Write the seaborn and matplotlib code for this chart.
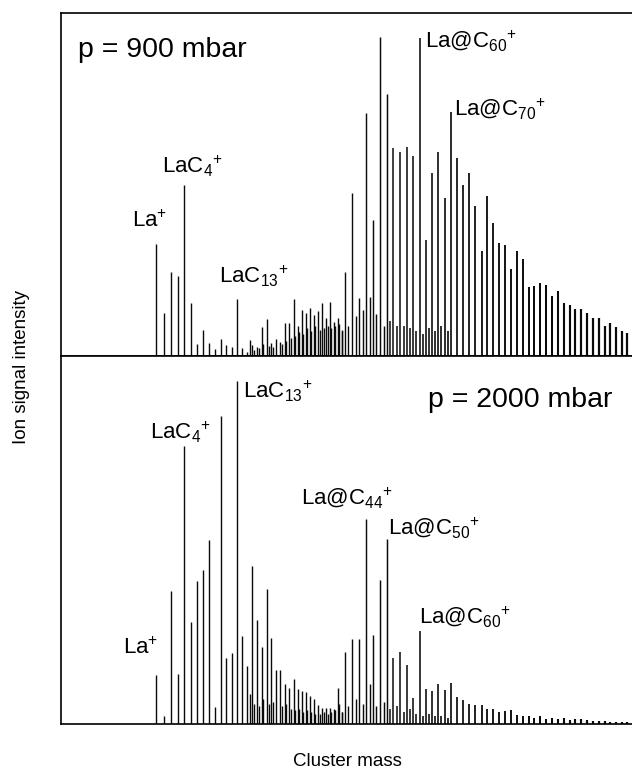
import numpy as np
import pandas as pd
import matplotlib
matplotlib.use("Agg")
import matplotlib.pyplot as plt
import seaborn as sns

LA_MASS = 139.0
C_MASS = 12.0

pressures = ["900 mbar", "2000 mbar"]

# LaCn+ clusters, every n resolved at low mass
lac_carbons = list(range(38))
lac_900 = [112, 43, 84, 80, 171, 53, 12, 26, 13, 7, 17, 11, 9, 57, 8, 4, 11, 9, 29, 37,
           13, 17, 14, 33, 33, 57, 30, 46, 43, 48, 41, 45, 53, 38, 54, 34, 38, 25]
lac_2000 = [49, 8, 133, 50, 278, 102, 143, 154, 184, 17, 308, 66, 71, 343, 88, 58, 158, 104, 77, 135,
            86, 54, 54, 40, 36, 45, 35, 33, 32, 28, 25, 19, 16, 16, 16, 15, 36, 12]

# even-numbered (fullerene) peaks, masses
fullerene_mass = [594, 616, 641, 665, 689, 714, 739, 762, 787, 812, 836, 861, 886, 911, 936, 963,
                  988, 1013, 1039, 1066, 1093, 1121, 1147, 1174, 1201, 1228, 1256, 1284, 1312, 1341,
                  1368, 1398, 1427, 1457, 1487, 1516, 1548, 1578, 1608, 1640, 1673, 1703, 1736, 1768,
                  1800, 1832, 1865]
fullerene_900 = [84, 163, 58, 243, 136, 319, 262, 208, 204, 209, 200, 318, 116, 183, 204, 158,
                 244, 198, 171, 183, 150, 105, 160, 133, 113, 111, 87, 105, 97, 69,
                 70, 73, 71, 60, 65, 53, 51, 47, 47, 43, 38, 38, 30, 33, 29, 25, 23]
fullerene_2000 = [72, 85, 85, 205, 89, 144, 185, 66, 72, 59, 26, 93, 35, 33, 40, 34,
                  41, 27, 24, 20, 19, 19, 15, 15, 12, 13, 14, 9, 8, 8,
                  6, 8, 5, 6, 5, 6, 4, 5, 5, 4, 3, 3, 3, 2, 2, 2, 2]

# weaker peaks in between (pure carbon clusters, odd sizes)
minor_mass = [325, 336, 348, 359, 372, 384, 407, 418, 432, 443, 454, 466, 477, 489, 501, 515,
              527, 539, 550, 562, 575, 586, 604, 629, 653, 677, 701, 726, 750, 775, 800, 824,
              849, 873, 899, 923, 949, 974]
minor_900 = [16, 6, 8, 12, 10, 9, 12, 15, 18, 20, 24, 22, 28, 25, 30, 26, 28, 30, 28, 30,
             32, 26, 30, 40, 46, 59, 42, 30, 35, 30, 30, 28, 25, 22, 28, 25, 30, 25]
minor_2000 = [30, 20, 18, 25, 20, 22, 18, 20, 15, 14, 15, 12, 14, 12, 10, 10, 12, 10, 12, 14,
              20, 12, 18, 25, 20, 40, 18, 22, 15, 18, 12, 15, 10, 8, 10, 8, 8, 6]

# annotated peaks: (text, carbon atoms, x offset px, y offset px, alignment)
labels_900 = [
    (r"La$^{+}$", 0, 11, 17, "right"),
    (r"LaC$_{4}{}^{+}$", 4, -22, 12, "left"),
    (r"LaC$_{13}{}^{+}$", 13, -18, 16, "left"),
    (r"La@C$_{60}{}^{+}$", 60, 5, -9, "left"),
    (r"La@C$_{70}{}^{+}$", 70, 3, -3, "left"),
]
labels_2000 = [
    (r"La$^{+}$", 0, 2, 21, "right"),
    (r"LaC$_{4}{}^{+}$", 4, -34, 7, "left"),
    (r"LaC$_{13}{}^{+}$", 13, 6, -17, "left"),
    (r"La@C$_{44}{}^{+}$", 44, -65, 15, "left"),
    (r"La@C$_{50}{}^{+}$", 50, 1, 5, "left"),
    (r"La@C$_{60}{}^{+}$", 60, -1, 8, "left"),
]


def build_spectra() -> pd.DataFrame:
    lac_mass = LA_MASS + C_MASS * np.array(lac_carbons)
    frames = []
    for pressure, lac_h, ful_h, minor_h in [
        (pressures[0], lac_900, fullerene_900, minor_900),
        (pressures[1], lac_2000, fullerene_2000, minor_2000),
    ]:
        frames.append(pd.DataFrame({
            "pressure": pressure,
            "kind": ["LaCn"] * len(lac_mass) + ["fullerene"] * len(fullerene_mass)
                    + ["minor"] * len(minor_mass),
            "mass": np.concatenate([lac_mass, fullerene_mass, minor_mass]),
            "intensity": np.concatenate([lac_h, ful_h, minor_h]),
        }))
    return pd.concat(frames, ignore_index=True)


def draw_sticks(data, **kws):
    ax = plt.gca()
    # peaks get a little broader with mass in the time-of-flight spectrum
    widths = np.clip(1.0 + (data["mass"].to_numpy() - 600) / 1800, 1.0, 1.6)
    ax.vlines(data["mass"], 0, data["intensity"], color="#0a0a0a", linewidth=widths)


def main() -> None:
    sns.set_theme(style="white")
    plt.rcParams["font.family"] = ["Liberation Sans", "DejaVu Sans"]
    plt.rcParams["mathtext.fontset"] = "custom"
    plt.rcParams["mathtext.rm"] = "Liberation Sans"
    plt.rcParams["mathtext.it"] = "Liberation Sans:italic"
    plt.rcParams["mathtext.bf"] = "Liberation Sans:bold"

    spectra = build_spectra()

    g = sns.FacetGrid(spectra, row="pressure", row_order=pressures, sharex=True, sharey=False,
                      height=3.8, aspect=1.6, despine=False,
                      gridspec_kws={"height_ratios": [343, 368]})
    g.map_dataframe(draw_sticks)

    fig = g.figure
    fig.set_size_inches(6.32, 7.75)
    fig.set_dpi(100)

    ax_top, ax_bot = g.axes[0, 0], g.axes[1, 0]
    ax_top.set_xscale("function", functions=(np.sqrt, np.square))
    ax_top.set_xlim(29.8, 1892)
    ax_top.set_ylim(0, 343)
    ax_bot.set_ylim(0, 368)

    for ax in (ax_top, ax_bot):
        ax.set_title("")
        ax.set_xlabel("")
        ax.set_ylabel("")
        ax.set_xticks([])
        ax.set_yticks([])
        ax.spines["right"].set_visible(False)
        for side in ("left", "top", "bottom"):
            ax.spines[side].set_color("black")
            ax.spines[side].set_linewidth(1.2)

    for ax, pressure, labels in [(ax_top, pressures[0], labels_900), (ax_bot, pressures[1], labels_2000)]:
        sub = spectra[(spectra["pressure"] == pressure) & (spectra["kind"] != "minor")]
        for text, carbons, dx, dy, ha in labels:
            mass = LA_MASS + C_MASS * carbons
            peak = sub.iloc[(sub["mass"] - mass).abs().argmin()]
            ax.annotate(text, xy=(peak["mass"], peak["intensity"]), xytext=(dx, dy),
                        textcoords="offset pixels", ha=ha, va="baseline", fontsize=16,
                        color="black")

    ax_top.text(0.03, 0.872, "p = 900 mbar", transform=ax_top.transAxes, fontsize=20.5,
                ha="left", va="baseline", color="black")
    ax_bot.text(0.643, 0.861, "p = 2000 mbar", transform=ax_bot.transAxes, fontsize=20.5,
                ha="left", va="baseline", color="black")

    fig.text(22 / 632, 1 - 367 / 775, "Ion signal intensity", rotation=90, ha="center",
             va="center", fontsize=13.5, color="black")
    fig.text(347 / 632, 1 - 762 / 775, "Cluster mass", ha="center", va="center",
             fontsize=13.5, color="black")

    fig.subplots_adjust(left=61 / 632, right=1.0, top=1 - 13 / 775, bottom=1 - 724 / 775, hspace=0)
    fig.savefig("out.png", dpi=100)


if __name__ == "__main__":
    main()
